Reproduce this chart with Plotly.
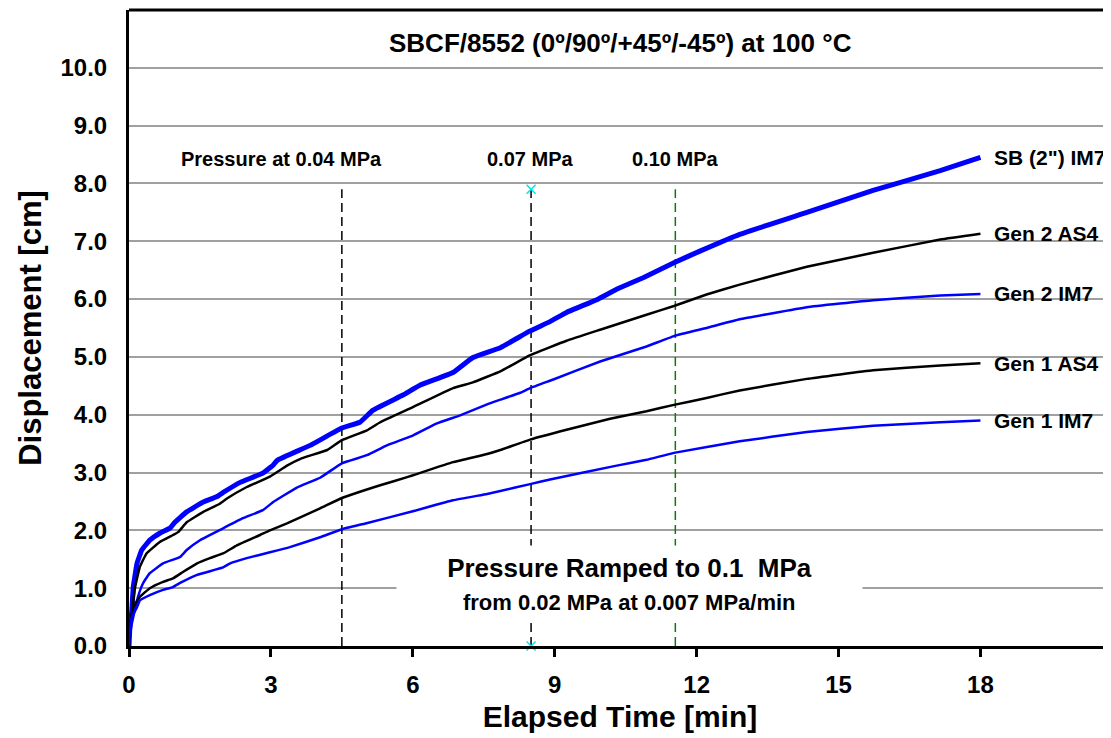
import plotly.graph_objects as go

# ---------------- data ----------------
sb_im7_t = [0, 0.02, 0.06, 0.09, 0.17, 0.27, 0.44, 0.65, 0.87, 0.97, 1.22, 1.57, 1.85, 2.0, 2.35, 2.83, 3.05, 3.13,
            3.83, 4.5, 4.88, 5.16, 5.79, 6.15, 6.85, 7.27, 7.85, 8.48, 8.9, 9.25, 9.89, 10.31, 10.87, 11.52, 12.07,
            12.91, 14.33, 15.73, 17.15, 18.0]
sb_im7_v = [0, 0.35, 0.62, 1.02, 1.43, 1.66, 1.83, 1.95, 2.04, 2.14, 2.32, 2.49, 2.58, 2.66, 2.83, 2.99, 3.13, 3.21,
            3.47, 3.77, 3.87, 4.08, 4.34, 4.51, 4.73, 4.99, 5.16, 5.45, 5.61, 5.77, 5.99, 6.17, 6.37, 6.63, 6.83,
            7.12, 7.50, 7.88, 8.22, 8.45]

gen2_as4_t = [0, 0.03, 0.06, 0.13, 0.23, 0.37, 0.65, 0.93, 1.04, 1.22, 1.57, 1.92, 2.07, 2.49, 2.98, 3.34, 3.66, 4.19,
              4.5, 5.03, 5.31, 6.0, 6.85, 7.27, 7.85, 8.48, 9.25, 9.96, 10.94, 11.52, 12.21, 12.91, 14.33, 15.73,
              17.15, 18.0]
gen2_as4_v = [0, 0.3, 0.55, 1.02, 1.37, 1.6, 1.8, 1.92, 1.97, 2.14, 2.32, 2.46, 2.55, 2.75, 2.93, 3.12, 3.25, 3.39,
              3.56, 3.73, 3.87, 4.13, 4.46, 4.56, 4.75, 5.03, 5.28, 5.47, 5.73, 5.88, 6.08, 6.25, 6.56, 6.80,
              7.03, 7.13]

gen2_im7_t = [0, 0.04, 0.09, 0.19, 0.3, 0.44, 0.72, 1.08, 1.22, 1.5, 2.0, 2.41, 2.83, 3.05, 3.55, 4.04, 4.5, 5.03,
              5.45, 6.0, 6.51, 7.0, 7.57, 7.85, 8.27, 8.48, 8.97, 9.96, 10.94, 11.52, 12.21, 12.91, 14.33, 15.73,
              17.15, 18.0]
gen2_im7_v = [0, 0.3, 0.5, 0.85, 1.09, 1.26, 1.43, 1.54, 1.66, 1.83, 2.04, 2.21, 2.35, 2.49, 2.74, 2.91, 3.16, 3.30,
              3.47, 3.64, 3.85, 3.99, 4.18, 4.26, 4.38, 4.46, 4.61, 4.92, 5.18, 5.36, 5.50, 5.65, 5.86, 5.98,
              6.06, 6.09]

gen1_as4_t = [0, 0.03, 0.09, 0.23, 0.44, 0.72, 0.93, 1.14, 1.44, 1.71, 1.99, 2.28, 2.77, 2.98, 3.34, 4.04, 4.5, 5.31,
              5.88, 6.85, 7.57, 7.85, 8.48, 9.25, 10.17, 10.94, 11.52, 12.21, 12.91, 14.33, 15.73, 17.15, 18.0]
gen1_as4_v = [0, 0.4, 0.67, 0.85, 1.0, 1.11, 1.17, 1.28, 1.43, 1.52, 1.6, 1.74, 1.92, 2.0, 2.12, 2.38, 2.56, 2.78,
              2.92, 3.18, 3.32, 3.39, 3.57, 3.74, 3.93, 4.06, 4.17, 4.29, 4.42, 4.62, 4.77, 4.85, 4.89]

gen1_im7_t = [0, 0.02, 0.06, 0.17, 0.23, 0.44, 0.72, 0.93, 1.08, 1.44, 1.99, 2.14, 2.49, 2.98, 3.4, 4.04, 4.5, 5.0,
              6.0, 6.85, 7.57, 7.85, 8.48, 8.9, 10.31, 10.94, 11.52, 12.91, 14.33, 15.73, 17.15, 18.0]
gen1_im7_v = [0, 0.3, 0.5, 0.67, 0.79, 0.88, 0.97, 1.02, 1.09, 1.23, 1.36, 1.43, 1.52, 1.62, 1.71, 1.88, 2.02, 2.12,
              2.33, 2.52, 2.63, 2.68, 2.80, 2.88, 3.12, 3.22, 3.34, 3.54, 3.70, 3.81, 3.87, 3.90]

series_names = ['SB (2") IM7', "Gen 2 AS4", "Gen 2 IM7", "Gen 1 AS4", "Gen 1 IM7"]

pressure_times = [4.5, 8.5, 11.55]
pressure_labels = ["Pressure at 0.04 MPa", "0.07 MPa", "0.10 MPa"]
pressure_label_x = [3.22, 8.48, 11.54]
pressure_line_top = 7.9

x_ticks = [0, 3, 6, 9, 12, 15, 18]
y_ticks = [0, 1, 2, 3, 4, 5, 6, 7, 8, 9, 10]

# ---------------- figure ----------------
FONT = "Arial, 'Liberation Sans', sans-serif"
fig = go.Figure()

series = [
    (sb_im7_t, sb_im7_v, "#0000FF", 5),
    (gen2_as4_t, gen2_as4_v, "#000000", 2.5),
    (gen2_im7_t, gen2_im7_v, "#0000FF", 2.5),
    (gen1_as4_t, gen1_as4_v, "#000000", 2.5),
    (gen1_im7_t, gen1_im7_v, "#0000FF", 2.5),
]

pcolors = ["#000000", "#000000", "#008000"]
for xt, col in zip(pressure_times, pcolors):
    fig.add_trace(go.Scatter(x=[xt, xt], y=[0, pressure_line_top], mode="lines",
                             line=dict(color=col, width=1.5, dash="9px,5px"), showlegend=False,
                             hoverinfo="skip"))
fig.add_trace(go.Scatter(x=[pressure_times[1], pressure_times[1]], y=[0, pressure_line_top], mode="markers",
                         marker=dict(symbol="x-thin", size=9, line=dict(color="#00E5EE", width=1.5)),
                         showlegend=False, hoverinfo="skip", cliponaxis=False))

for (t, v, c, w), name in zip(series, series_names):
    fig.add_trace(go.Scatter(x=t, y=v, mode="lines", name=name,
                             line=dict(color=c, width=w, shape="spline", smoothing=0.3), showlegend=False))
    fig.add_annotation(x=18.25, y=v[-1], text=name, showarrow=False, xanchor="left", yanchor="middle",
                       font=dict(family=FONT, size=21, color="black", weight="bold"))

for lx, lab in zip(pressure_label_x, pressure_labels):
    fig.add_annotation(x=lx, y=8.42, text=lab, showarrow=False, xanchor="center", yanchor="middle",
                       font=dict(family=FONT, size=20, color="black", weight="bold"))

fig.add_annotation(x=10.4, y=10.43, text="SBCF/8552 (0º/90º/+45º/-45º) at 100 °C", showarrow=False,
                   xanchor="center", yanchor="middle",
                   font=dict(family=FONT, size=26, color="black", weight="bold"))

fig.add_annotation(x=10.58, y=1.07, xanchor="center", yanchor="middle", showarrow=False,
                   text="Pressure Ramped to 0.1  MPa<br><span style='font-size:22px'>from 0.02 MPa at 0.007 MPa/min</span>",
                   font=dict(family=FONT, size=26, color="black", weight="bold"),
                   bgcolor="white", width=463, height=74, align="center")

fig.add_shape(type="line", xref="paper", yref="paper", x0=0, x1=1, y0=1, y1=1,
              line=dict(color="black", width=3))

fig.update_layout(
    width=1103, height=730,
    margin=dict(l=121, r=0, t=2, b=92),
    paper_bgcolor="white", plot_bgcolor="white",
    font=dict(family=FONT, color="black"),
    xaxis=dict(range=[0, 20.76], tickvals=x_ticks, showgrid=False, zeroline=False,
               showline=True, linecolor="black", linewidth=3,
               ticks="outside", ticklen=8, tickwidth=2.5, tickcolor="black", ticklabelstandoff=7,
               tickfont=dict(family=FONT, size=24, color="black", weight="bold"),
               title=dict(text="Elapsed Time [min]", standoff=10,
                          font=dict(family=FONT, size=30, color="black", weight="bold"))),
    yaxis=dict(range=[0, 11], tickvals=y_ticks, tickformat=".1f", showgrid=True, gridcolor="#A0A0A0",
               gridwidth=1.5, zeroline=False, showline=True, linecolor="black", linewidth=3,
               ticks="", ticklabelstandoff=14,
               tickfont=dict(family=FONT, size=24, color="black", weight="bold"),
               title=dict(text="Displacement [cm]", standoff=10,
                          font=dict(family=FONT, size=31, color="black", weight="bold"))),
)

fig.write_html("out.html")
